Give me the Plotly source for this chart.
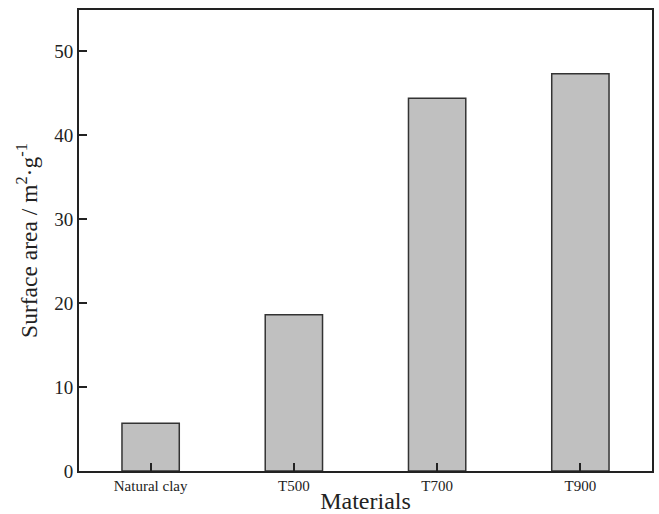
import plotly.graph_objects as go

categories = ["Natural clay", "T500", "T700", "T900"]
surface_area = [5.68, 18.6, 44.4, 47.3]
y_ticks = [0, 10, 20, 30, 40, 50]

fig = go.Figure()
fig.add_trace(go.Bar(
    x=categories, y=surface_area, width=0.4,
    marker=dict(color="#c0c0c0", line=dict(color="#333333", width=1.5)),
))
font = "Liberation Serif, Times New Roman, serif"
fig.update_layout(
    width=659, height=514,
    margin=dict(l=79, r=7, t=10, b=43),
    plot_bgcolor="white", paper_bgcolor="white",
    showlegend=False,
    font=dict(family=font, color="#222222"),
    xaxis=dict(
        range=[-0.5, 3.5], showline=True, linecolor="#222222", linewidth=2,
        mirror=True, ticks="inside", ticklen=8, tickwidth=2, tickcolor="#222222",
        tickfont=dict(size=15, family=font), automargin=False,
        title=dict(text="Materials", font=dict(size=24, family=font), standoff=0),
        showgrid=False,
    ),
    yaxis=dict(
        range=[0, 54.9], tickvals=y_ticks, showline=True, linecolor="#222222",
        linewidth=2, mirror=True, ticks="inside", ticklen=8, tickwidth=2,
        tickcolor="#222222", tickfont=dict(size=19, family=font), automargin=False,
        title=dict(text="Surface area / m<sup>2</sup>·g<sup>-1</sup>",
                   font=dict(size=23.5, family=font), standoff=10),
        showgrid=False, zeroline=False,
    ),
)
fig.write_html("out.html")
